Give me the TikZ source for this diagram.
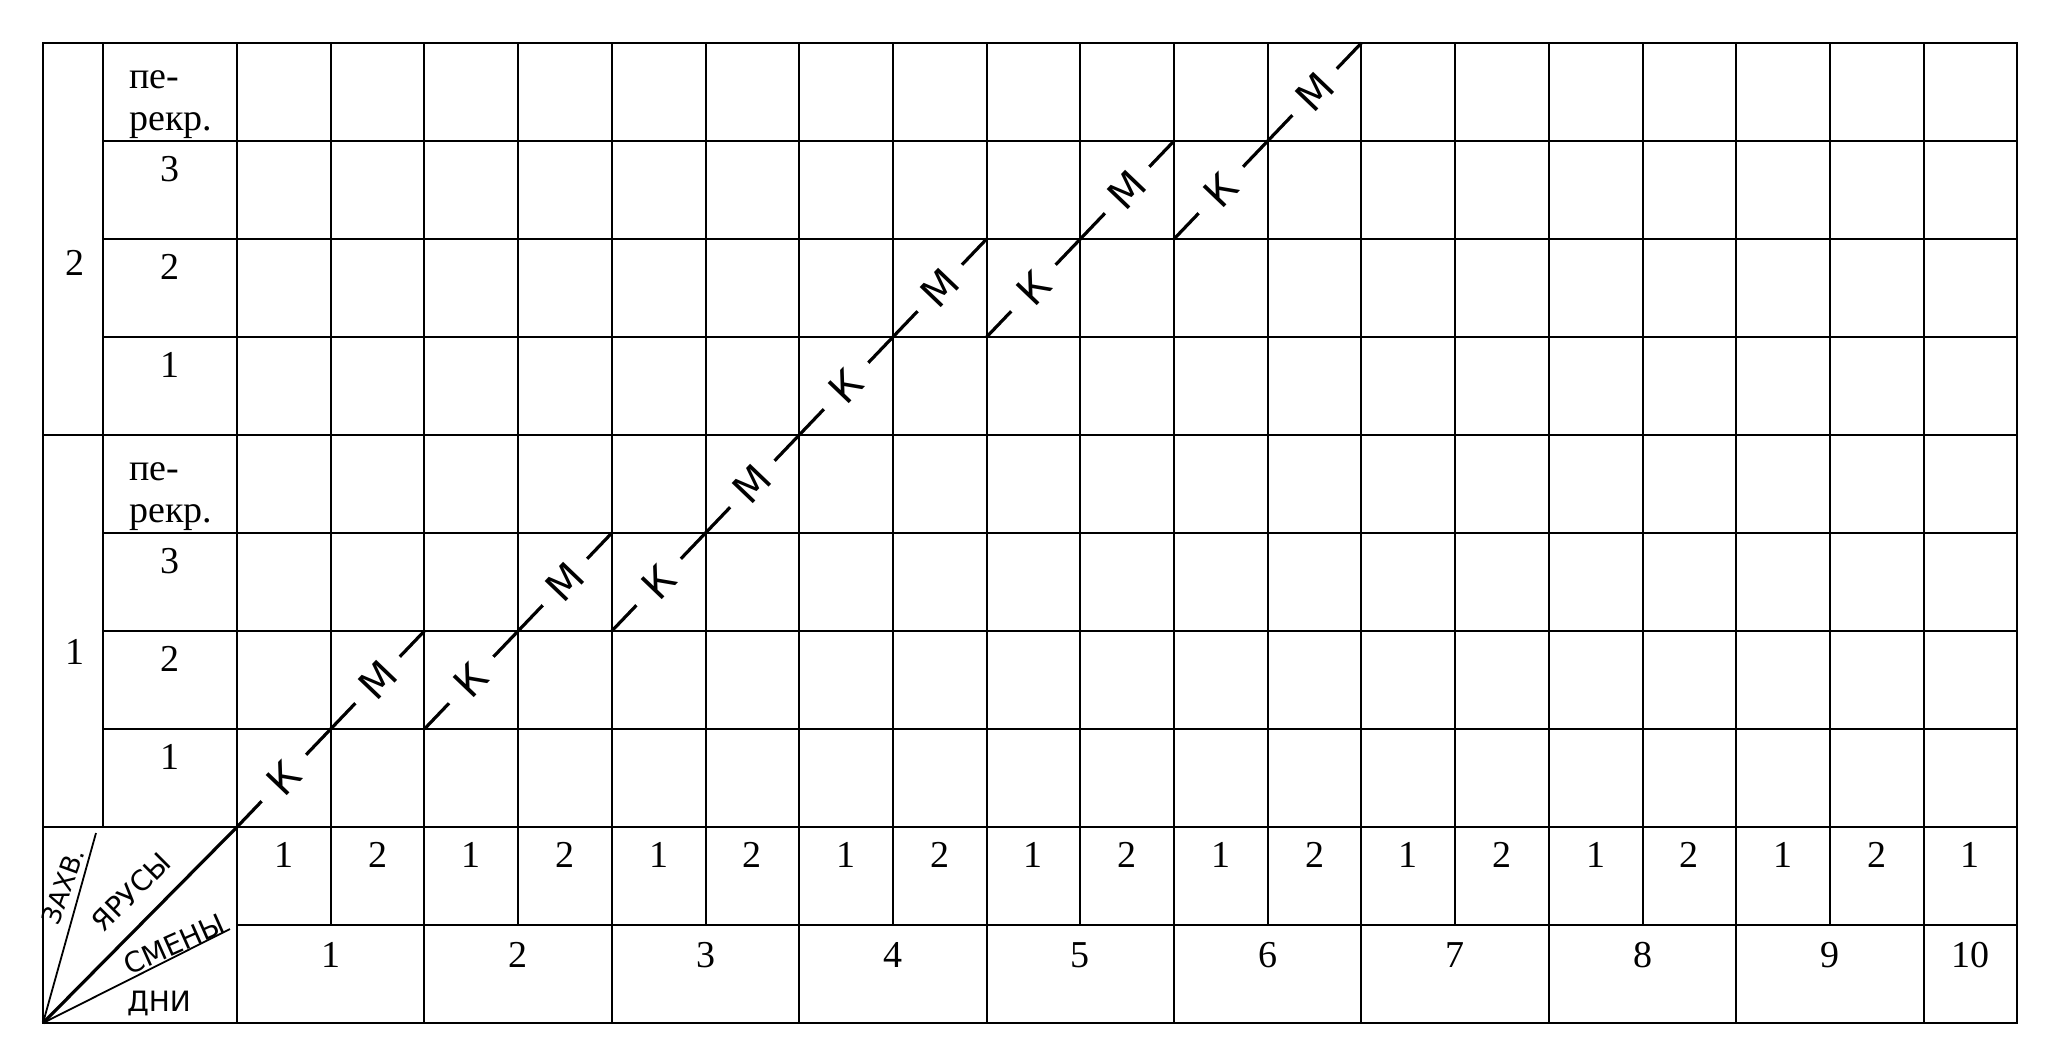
\documentclass[tikz,border=0pt]{standalone}
\usepackage{fontspec}
\setmainfont{Liberation Serif}
\newfontfamily\handfont{DejaVu Sans}
\usetikzlibrary{calc}

\begin{document}
\begin{tikzpicture}[x=0.5pt,y=-0.5pt,
    rule/.style={line width=1pt},
    trail/.style={line width=1.6pt},
    slash/.style={line width=0.9pt},
    num/.style={font=\fontsize{19}{21}\selectfont, anchor=north, inner sep=0pt},
    side/.style={font=\fontsize{19}{21}\selectfont, align=left, anchor=north west, inner sep=0pt},
    hand/.style={font=\handfont\fontsize{14}{14}\selectfont, inner sep=0pt},
    op/.style={font=\handfont\fontsize{20}{20}\selectfont, fill=white, sloped, inner sep=0pt, minimum width=32pt, minimum height=18pt}]

\useasboundingbox (0,0) rectangle (2054,1059);

% grid vertices: column line i, row line j (j=0 under the lowest data row)
\foreach \i in {0,...,19}
  \foreach \j in {0,...,8}
    \coordinate (v\i-\j) at ({237+93.7*\i},{827-98*\j});

% frame and rows
\draw[rule] (43,43) rectangle (2017.3,1023);
\foreach \j in {1,2,3,5,6,7}
  \draw[rule] (103,{827-98*\j}) -- (v19-\j);
\draw[rule] (43,435) -- (v19-4);
\draw[rule] (43,827) -- (v19-0);
\draw[rule] (237,925) -- (2017.3,925);

% columns
\draw[rule] (103,43) -- (103,827);
\draw[rule] (237,43) -- (237,1023);
\foreach \i in {1,3,...,17}
  \draw[rule] (v\i-8) -- ({237+93.7*\i},925);
\foreach \i in {2,4,...,18}
  \draw[rule] (v\i-8) -- ({237+93.7*\i},1023);

% shifts and days
\foreach \c in {0,...,18}{
  \pgfmathtruncatemacro\s{mod(\c,2)+1}
  \node[num] (tier\c) at ({237+93.7*(\c+0.5)},842) {\s};
}
\foreach \d in {1,...,9}
  \node[num] (day\d) at ({237+93.7*(2*\d-1)},942) {\d};
\node[num] (day10) at ({237+93.7*18.5},942) {10};

% left columns
\node[num, anchor=center] (grp2) at (75,263) {2};
\node[num, anchor=center] (grp1) at (75,652) {1};
\foreach \t in {43,435}
  \node[side] (over\t) at (129,\t+27) {пе-\\рекр.};
\foreach \k/\t in {3/141,2/239,1/337,3/533,2/631,1/729}
  \node[num] (row\t) at (170,\t+15) {\k};

% corner head
\coordinate (hc) at (43,1023);
\coordinate (zt) at (96,833);
\coordinate (st) at (230,929);
\draw[slash] (hc) -- (zt);
\draw[slash] (hc) -- (st);
\node[hand, font=\handfont\fontsize{13}{13}\selectfont, rotate=70] (zakhv) at (63,886) {ЗАХВ.};
\node[hand, rotate=45] (tiers) at (131,892) {ЯРУСЫ};
\node[hand, rotate=24] (shifts) at (174,944) {СМЕНЫ};
\node[hand] (days) at (159,1003) {ДНИ};

% K -- M runs
\draw[trail] (hc) -- (v0-0) -- node[op]{К} (v1-1) -- node[op]{М} (v2-2);
\draw[trail] (v2-1) -- node[op]{К} (v3-2) -- node[op]{М} (v4-3);
\draw[trail] (v4-2) -- node[op]{К} (v5-3) -- node[op]{М} (v6-4)
  -- node[op]{К} (v7-5) -- node[op]{М} (v8-6);
\draw[trail] (v8-5) -- node[op]{К} (v9-6) -- node[op]{М} (v10-7);
\draw[trail] (v10-6) -- node[op]{К} (v11-7) -- node[op]{М} (v12-8);
\end{tikzpicture}
\end{document}
